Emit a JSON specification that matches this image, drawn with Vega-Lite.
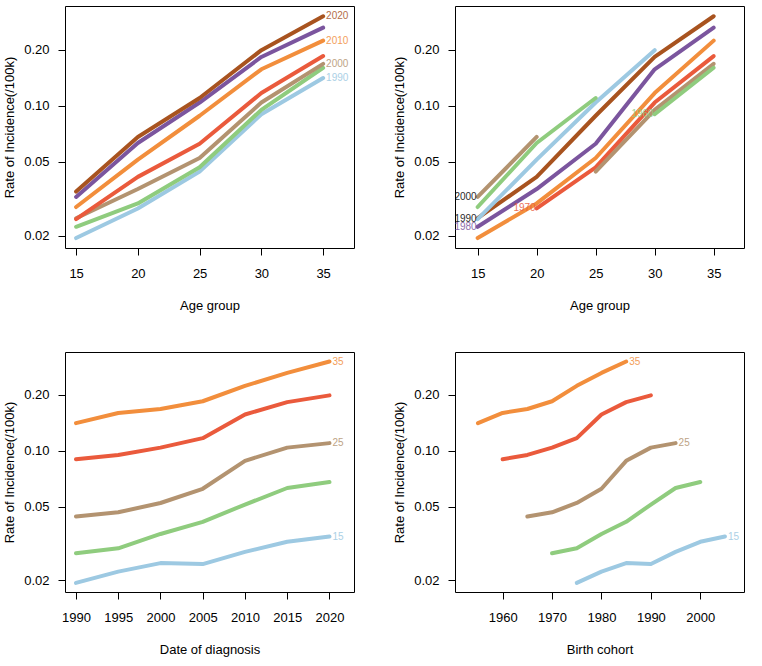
{
  "$schema": "https://vega.github.io/schema/vega-lite/v6.json",
  "padding": {"left": 3, "top": 5, "right": 5, "bottom": 5},
  "background": "white",
  "config": {
    "font": "Liberation Sans",
    "view": {"stroke": "black", "strokeWidth": 1},
    "axis": {
      "domain": false, "grid": false, "ticks": true, "tickColor": "black", "tickSize": 7,
      "labelFont": "Liberation Sans", "labelFontSize": 13, "labelColor": "black",
      "titleFont": "Liberation Sans", "titleFontSize": 13, "titleFontWeight": "normal", "titleColor": "black"
    },
    "axisX": {"labelPadding": 12, "titlePadding": 19, "labelFlush": false},
    "axisY": {"labelPadding": 9, "titlePadding": 7, "labelFlush": false}
  },
  "datasets": {
    "d": [
      {"age": 15, "period": 1990, "cohort": 1975, "rate": 0.0194},
      {"age": 20, "period": 1990, "cohort": 1970, "rate": 0.0280},
      {"age": 25, "period": 1990, "cohort": 1965, "rate": 0.0442},
      {"age": 30, "period": 1990, "cohort": 1960, "rate": 0.090},
      {"age": 35, "period": 1990, "cohort": 1955, "rate": 0.141},
      {"age": 15, "period": 1995, "cohort": 1980, "rate": 0.0223},
      {"age": 20, "period": 1995, "cohort": 1975, "rate": 0.0298},
      {"age": 25, "period": 1995, "cohort": 1970, "rate": 0.0466},
      {"age": 30, "period": 1995, "cohort": 1965, "rate": 0.095},
      {"age": 35, "period": 1995, "cohort": 1960, "rate": 0.160},
      {"age": 15, "period": 2000, "cohort": 1985, "rate": 0.0248},
      {"age": 20, "period": 2000, "cohort": 1980, "rate": 0.0356},
      {"age": 25, "period": 2000, "cohort": 1975, "rate": 0.0523},
      {"age": 30, "period": 2000, "cohort": 1970, "rate": 0.104},
      {"age": 35, "period": 2000, "cohort": 1965, "rate": 0.168},
      {"age": 15, "period": 2005, "cohort": 1990, "rate": 0.0245},
      {"age": 20, "period": 2005, "cohort": 1985, "rate": 0.0414},
      {"age": 25, "period": 2005, "cohort": 1980, "rate": 0.0624},
      {"age": 30, "period": 2005, "cohort": 1975, "rate": 0.117},
      {"age": 35, "period": 2005, "cohort": 1970, "rate": 0.185},
      {"age": 15, "period": 2010, "cohort": 1995, "rate": 0.0285},
      {"age": 20, "period": 2010, "cohort": 1990, "rate": 0.0513},
      {"age": 25, "period": 2010, "cohort": 1985, "rate": 0.0883},
      {"age": 30, "period": 2010, "cohort": 1980, "rate": 0.157},
      {"age": 35, "period": 2010, "cohort": 1975, "rate": 0.224},
      {"age": 15, "period": 2015, "cohort": 2000, "rate": 0.0323},
      {"age": 20, "period": 2015, "cohort": 1995, "rate": 0.063},
      {"age": 25, "period": 2015, "cohort": 1990, "rate": 0.104},
      {"age": 30, "period": 2015, "cohort": 1985, "rate": 0.183},
      {"age": 35, "period": 2015, "cohort": 1980, "rate": 0.263},
      {"age": 15, "period": 2020, "cohort": 2005, "rate": 0.0345},
      {"age": 20, "period": 2020, "cohort": 2000, "rate": 0.0679},
      {"age": 25, "period": 2020, "cohort": 1995, "rate": 0.110},
      {"age": 30, "period": 2020, "cohort": 1990, "rate": 0.199},
      {"age": 35, "period": 2020, "cohort": 1985, "rate": 0.303}
    ]
  },
  "columns": 2,
  "spacing": {"row": 38, "column": 38},
  "concat": [
    {
      "width": 289, "height": 242,
      "data": {"name": "d"},
      "encoding": {
        "x": {"field": "age", "type": "quantitative", "scale": {"domain": [14.1, 37.5], "nice": false, "zero": false}, "axis": {"values": [15, 20, 25, 30, 35], "title": "Age group"}},
        "y": {"field": "rate", "type": "quantitative", "scale": {"type": "log", "domain": [0.01715, 0.344], "nice": false}, "axis": {"values": [0.02, 0.05, 0.1, 0.2], "format": ".2f", "title": "Rate of Incidence(/100k)"}},
        "color": {"field": "period", "type": "nominal", "legend": null, "scale": {"domain": [1990, 1995, 2000, 2005, 2010, 2015, 2020], "range": ["#9dc9e2", "#8fcc7e", "#b39370", "#ea5a3c", "#f28e3c", "#7b559e", "#a8531f"]}}
      },
      "layer": [
        {"mark": {"type": "line", "strokeWidth": 4, "strokeCap": "round", "strokeJoin": "round", "clip": true}},
        {"transform": [{"filter": "datum.age == 35 && (datum.period == 1990 || datum.period == 2000 || datum.period == 2010 || datum.period == 2020)"}],
         "mark": {"type": "text", "align": "left", "baseline": "middle", "dx": 3, "fontSize": 10, "clip": true, "opacity": 0.85},
         "encoding": {"text": {"field": "period", "type": "nominal"}}}
      ]
    },
    {
      "width": 289, "height": 242,
      "data": {"name": "d"},
      "encoding": {
        "x": {"field": "age", "type": "quantitative", "scale": {"domain": [13.08, 37.57], "nice": false, "zero": false}, "axis": {"values": [15, 20, 25, 30, 35], "title": "Age group"}},
        "y": {"field": "rate", "type": "quantitative", "scale": {"type": "log", "domain": [0.01715, 0.344], "nice": false}, "axis": {"values": [0.02, 0.05, 0.1, 0.2], "format": ".2f", "title": "Rate of Incidence(/100k)"}}
      },
      "layer": [
        {"transform": [{"filter": "datum.cohort != 1955 && datum.cohort != 2005"}],
         "mark": {"type": "line", "strokeWidth": 4, "strokeCap": "round", "strokeJoin": "round", "clip": true},
         "encoding": {"color": {"field": "cohort", "type": "nominal", "legend": null, "scale": {"domain": [1955, 1960, 1965, 1970, 1975, 1980, 1985, 1990, 1995, 2000, 2005], "range": ["#9dc9e2", "#8fcc7e", "#b39370", "#ea5a3c", "#f28e3c", "#7b559e", "#a8531f", "#9dc9e2", "#8fcc7e", "#b39370", "#ea5a3c"]}}}},
        {"transform": [{"filter": "(datum.cohort == 1960 && datum.age == 30) || (datum.cohort == 1970 && datum.age == 20) || (datum.age == 15 && (datum.cohort == 1980 || datum.cohort == 1990 || datum.cohort == 2000))"}],
         "mark": {"type": "text", "align": "right", "baseline": "middle", "dx": -1, "fontSize": 10, "clip": true, "opacity": 0.85},
         "encoding": {
           "text": {"field": "cohort", "type": "nominal"},
           "color": {"field": "cohort", "type": "nominal", "legend": null, "condition": {"test": "datum.cohort >= 1990", "value": "black"}}
         }}
      ]
    },
    {
      "width": 289, "height": 240,
      "data": {"name": "d"},
      "encoding": {
        "x": {"field": "period", "type": "quantitative", "scale": {"domain": [1988.7, 2022.9], "nice": false, "zero": false}, "axis": {"values": [1990, 1995, 2000, 2005, 2010, 2015, 2020], "format": "d", "title": "Date of diagnosis"}},
        "y": {"field": "rate", "type": "quantitative", "scale": {"type": "log", "domain": [0.01732, 0.341], "nice": false}, "axis": {"values": [0.02, 0.05, 0.1, 0.2], "format": ".2f", "title": "Rate of Incidence(/100k)"}},
        "color": {"field": "age", "type": "nominal", "legend": null, "scale": {"domain": [15, 20, 25, 30, 35], "range": ["#9dc9e2", "#8fcc7e", "#b39370", "#ea5a3c", "#f28e3c"]}}
      },
      "layer": [
        {"mark": {"type": "line", "strokeWidth": 4, "strokeCap": "round", "strokeJoin": "round", "clip": true}},
        {"transform": [{"filter": "datum.period == 2020 && (datum.age == 15 || datum.age == 25 || datum.age == 35)"}],
         "mark": {"type": "text", "align": "left", "baseline": "middle", "dx": 3, "fontSize": 10, "clip": true, "opacity": 0.85},
         "encoding": {"text": {"field": "age", "type": "nominal"}}}
      ]
    },
    {
      "width": 289, "height": 240,
      "data": {"name": "d"},
      "encoding": {
        "x": {"field": "cohort", "type": "quantitative", "scale": {"domain": [1950.35, 2008.85], "nice": false, "zero": false}, "axis": {"values": [1960, 1970, 1980, 1990, 2000], "format": "d", "title": "Birth cohort"}},
        "y": {"field": "rate", "type": "quantitative", "scale": {"type": "log", "domain": [0.01732, 0.341], "nice": false}, "axis": {"values": [0.02, 0.05, 0.1, 0.2], "format": ".2f", "title": "Rate of Incidence(/100k)"}},
        "color": {"field": "age", "type": "nominal", "legend": null, "scale": {"domain": [15, 20, 25, 30, 35], "range": ["#9dc9e2", "#8fcc7e", "#b39370", "#ea5a3c", "#f28e3c"]}}
      },
      "layer": [
        {"mark": {"type": "line", "strokeWidth": 4, "strokeCap": "round", "strokeJoin": "round", "clip": true}},
        {"transform": [{"filter": "(datum.age == 35 && datum.cohort == 1985) || (datum.age == 25 && datum.cohort == 1995) || (datum.age == 15 && datum.cohort == 2005)"}],
         "mark": {"type": "text", "align": "left", "baseline": "middle", "dx": 3, "fontSize": 10, "clip": true, "opacity": 0.85},
         "encoding": {"text": {"field": "age", "type": "nominal"}}}
      ]
    }
  ]
}
